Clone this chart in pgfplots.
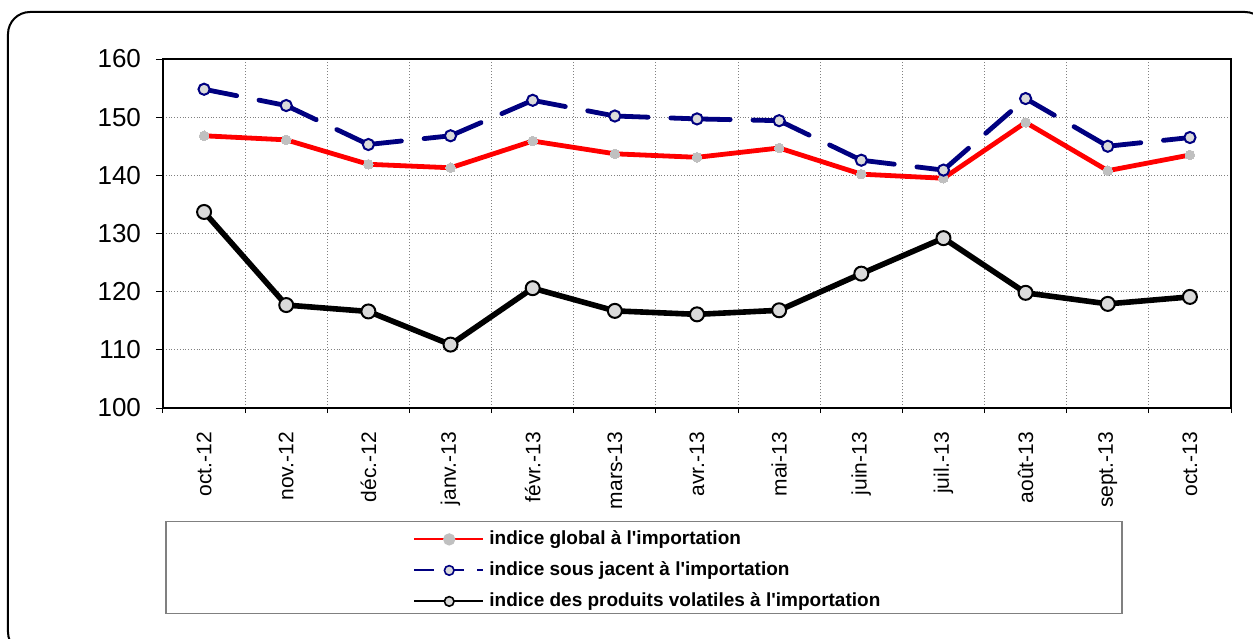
\documentclass[border=0pt]{standalone}
\usepackage{fontspec}
\setmainfont{Liberation Sans}[Ligatures=TeXOff]
\usepackage{pgfplots}
\pgfplotsset{compat=1.18}
\usepackage{pgfplotstable}
\definecolor{navy}{HTML}{000080}
\definecolor{mk}{HTML}{DADADA}
\definecolor{mkr}{HTML}{C0C0C0}
\definecolor{gridc}{HTML}{808080}

\pgfplotstableread{
x glob sous vol
0 146.8 154.8 133.7
1 146.1 152.0 117.7
2 141.9 145.3 116.6
3 141.3 146.8 110.9
4 145.9 152.9 120.6
5 143.7 150.2 116.7
6 143.1 149.7 116.1
7 144.7 149.4 116.8
8 140.2 142.6 123.1
9 139.5 140.9 129.2
10 149.1 153.2 119.8
11 140.8 145.0 117.9
12 143.5 146.5 119.1
}\data

\begin{document}
\begin{tikzpicture}
\useasboundingbox (-81.5pt,-115pt) rectangle (545pt,204pt);
\begin{scope}
\clip (-81.5pt,-115pt) rectangle (545pt,204pt);
\draw[line width=1pt, rounded corners=11pt] (-77.5pt,-123pt) rectangle (552pt,198pt);
\end{scope}
\draw[gridc, line width=0.6pt] (1.5pt,-102.75pt) rectangle (479.5pt,-56.75pt);
\begin{axis}[
  at={(0pt,0pt)}, anchor=south west,
  scale only axis, width=534pt, height=174.5pt,
  xmin=-0.5, xmax=12.5, ymin=100, ymax=160,
  ytick={100,110,...,160},
  xtick={0,...,12},
  xticklabels={oct.-12,nov.-12,déc.-12,janv.-13,févr.-13,mars-13,avr.-13,mai-13,juin-13,juil.-13,août-13,sept.-13,oct.-13},
  minor xtick={-0.5,0.5,...,12.5},
  major x tick style={draw=none},
  xmajorgrids=false, xminorgrids=true, ymajorgrids=true,
  grid style={densely dotted, gridc, line width=0.5pt},
  minor grid style={densely dotted, gridc, line width=0.5pt},
  axis line style={line width=1pt},
  tick align=outside, tick pos=left,
  major tick length=3.5pt, minor tick length=2.5pt,
  tick style={black, line width=0.5pt},
  /pgf/number format/assume math mode=true,
  y tick label style={font=\fontsize{13}{15}\selectfont},
  yticklabel shift=4pt,
  x tick label style={font=\fontsize{10.5}{12}\selectfont, rotate=90, anchor=east},
  xticklabel shift=5pt,
  legend style={at={(axis description cs:0.2341,-0.3496)}, anchor=north west,
    draw=none, fill=none, inner sep=0pt, row sep=6.5pt,
    font=\fontsize{9.5}{11}\selectfont\bfseries,
    nodes={inner sep=0pt, text height=7pt, text depth=2pt}},
  legend cell align=left,
]
\addplot[red, line width=2.4pt, mark=*, mark size=2.4pt,
  mark options={fill=mkr, draw=mkr, line width=0pt, solid},
  legend image code/.code={
    \path[draw=none, fill=none] (0pt,0pt) -- (37.5pt,0pt);
    \draw[red, line width=1pt] (0pt,0pt) -- (34.5pt,0pt);
    \fill[mkr] (17.4pt,0pt) circle (1.8pt);}]
  table[x=x, y=glob] {\data};
\pgfplotsinvokeforeach{0:1,1:2,2:3,3:4,4:5,5:6,6:7,7:8,8:9,9:10,10:11,11:12}{
  \addplot[navy, line width=2.4pt, line cap=round, dash pattern=on 16.6pt off 11.4pt, forget plot]
    table[x=x, y=sous, restrict x to domain=#1] {\data};
}
\addplot[navy, only marks, mark=*, mark size=2.8pt,
  mark options={fill=mk, draw=navy, line width=1pt, solid},
  legend image code/.code={
    \path[draw=none, fill=none] (0pt,0pt) -- (37.5pt,0pt);
    \draw[navy, line width=1pt, solid] (0pt,0pt) -- (10pt,0pt);
    \draw[navy, line width=1pt, solid] (20pt,0pt) -- (25pt,0pt);
    \draw[navy, line width=1pt, solid] (31.5pt,0pt) -- (34.5pt,0pt);
    \draw[navy, fill=mk, line width=0.8pt, solid] (17.4pt,0pt) circle (2.4pt);}]
  table[x=x, y=sous] {\data};
\addplot[black, line width=2.8pt, mark=*, mark size=3.5pt,
  mark options={fill=mk, draw=black, line width=1pt, solid},
  legend image code/.code={
    \path[draw=none, fill=none] (0pt,0pt) -- (37.5pt,0pt);
    \draw[black, line width=1pt] (0pt,0pt) -- (34.5pt,0pt);
    \draw[black, fill=mk, line width=0.8pt] (17.4pt,0pt) circle (2.4pt);}]
  table[x=x, y=vol] {\data};
\legend{indice global à l'importation, indice sous jacent à l'importation, indice des produits volatiles à l'importation}
\end{axis}
\end{tikzpicture}
\end{document}
